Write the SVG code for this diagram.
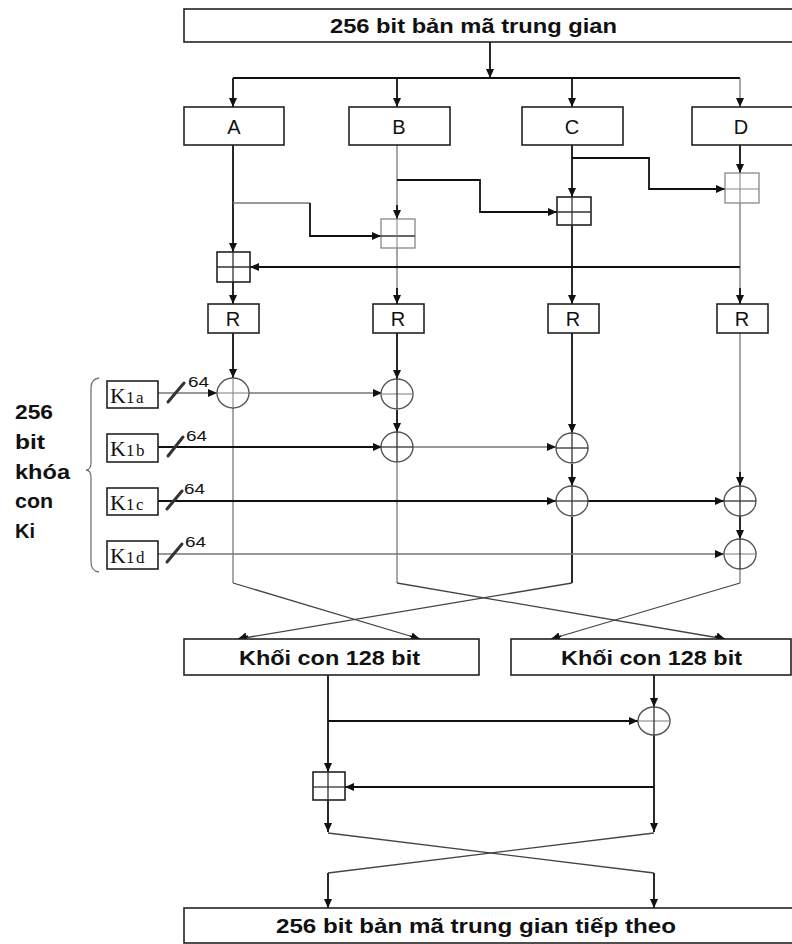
<svg xmlns="http://www.w3.org/2000/svg" width="792" height="944" viewBox="0 0 792 944">
<defs>
<marker id="ah" markerWidth="10" markerHeight="10" refX="9" refY="5" orient="auto" markerUnits="userSpaceOnUse">
<path d="M0,1 L9,5 L0,9 Z" fill="#111"/>
</marker>
<style>
.box{fill:#fff;stroke:#222;stroke-width:1.6}
.gbox{fill:#fff;stroke:#888;stroke-width:1.3}
.k{fill:none;stroke:#111;stroke-width:1.8}
.g{fill:none;stroke:#777;stroke-width:1.3}
.d{fill:none;stroke:#444;stroke-width:1.3}
.ka{fill:none;stroke:#111;stroke-width:1.8;marker-end:url(#ah)}
.ga{fill:none;stroke:#777;stroke-width:1.3;marker-end:url(#ah)}
.pl{stroke:#333;stroke-width:1.3}
.gpl{stroke:#888;stroke-width:1.1}
.xr{fill:#fff;stroke:#555;stroke-width:1.4}
.tb{font-family:"Liberation Sans",Arial,sans-serif;font-weight:bold;font-size:20px;fill:#111}
.tl{font-family:"Liberation Sans",Arial,sans-serif;font-size:20px;fill:#111;text-anchor:middle}
.ks{font-family:"Liberation Serif","Times New Roman",serif;fill:#111}
.n64{font-family:"Liberation Sans",Arial,sans-serif;font-size:14px;fill:#111}
.sl{stroke:#333;stroke-width:3;stroke-linecap:round}
</style>
</defs>
<rect width="792" height="944" fill="#fff"/>

<g id="connectors">
<path class="ka" d="M490,42 V78"/>
<path class="k" d="M233,78 H740"/>
<path class="ka" d="M233,78 V107"/>
<path class="ka" d="M397,78 V107"/>
<path class="ka" d="M572,78 V107"/>
<path class="ga" d="M740,78 V107"/>
<path class="ka" d="M233,145 V252"/>
<path class="ka" d="M233,282 V304"/>
<path class="g" d="M233,203 H310"/>
<path class="ka" d="M310,203 V236 H381"/>
<path class="g" d="M397,145 V304"/>
<path class="ka" d="M397,205 V219"/>
<path class="ka" d="M397,288 V304"/>
<path class="ka" d="M397,180 H480 V212 H557"/>
<path class="ka" d="M572,145 V197"/>
<path class="ka" d="M572,225 V304"/>
<path class="ka" d="M572,158 H649 V189 H725"/>
<path class="ka" d="M740,145 V173"/>
<path class="g" d="M740,203 V304"/>
<path class="ka" d="M740,288 V304"/>
<path class="ka" d="M740,267 H250"/>
<path class="ka" d="M233,333 V378"/>
<path class="g" d="M233,408 V583"/>
<path class="d" d="M233,583 L420,639"/>
<path class="ka" d="M410,636 L420,639"/>
<path class="ka" d="M397,333 V379"/>
<path class="ka" d="M397,410 V432"/>
<path class="g" d="M397,463 V583"/>
<path class="d" d="M397,583 L725,639"/>
<path class="ka" d="M715,636 L725,639"/>
<path class="ka" d="M572,333 V433"/>
<path class="ka" d="M572,464 V486"/>
<path class="k" d="M572,517 V583"/>
<path class="d" d="M572,583 L238,639"/>
<path class="ka" d="M248,636 L238,639"/>
<path class="g" d="M740,333 V486"/>
<path class="ka" d="M740,472 V486"/>
<path class="ka" d="M740,516 V539"/>
<path class="g" d="M740,569 V583"/>
<path class="d" d="M740,583 L551,639"/>
<path class="ka" d="M561,636 L551,639"/>
<path class="ga" d="M158,393 H217"/>
<path class="ga" d="M249,393 H382"/>
<path class="ka" d="M158,447 H382"/>
<path class="ga" d="M413,447 H556"/>
<path class="ka" d="M158,501 H556"/>
<path class="ka" d="M588,501 H724"/>
<path class="ga" d="M158,554 H724"/>
<path class="ka" d="M328,675 V772"/>
<path class="ka" d="M328,721 H638"/>
<path class="ka" d="M654,675 V707"/>
<path class="ka" d="M654,735 V832"/>
<path class="ka" d="M654,787 H345"/>
<path class="ka" d="M328,800 V832"/>
<path class="d" d="M328,833 L654,873"/>
<path class="d" d="M654,833 L328,873"/>
<path class="ka" d="M654,873 V908"/>
<path class="ka" d="M328,873 V908"/>
</g>

<g id="top">
<rect class="box" x="184" y="9" width="620" height="33"/>
<text class="tb" x="330" y="33" textLength="287" lengthAdjust="spacingAndGlyphs">256 bit bản mã trung gian</text>
</g>

<g id="A"><rect class="box" x="184" y="107" width="100" height="38"/><text class="tl" x="234" y="134">A</text></g>
<g id="B"><rect class="box" x="349" y="107" width="101" height="38"/><text class="tl" x="399" y="134">B</text></g>
<g id="C"><rect class="box" x="522" y="107" width="101" height="38"/><text class="tl" x="572" y="134">C</text></g>
<g id="D"><rect class="box" x="692" y="107" width="110" height="38"/><text class="tl" x="741" y="134">D</text></g>

<g id="addA"><rect class="box" x="217" y="252" width="33" height="30"/><line class="pl" x1="217" y1="267" x2="250" y2="267"/><line class="pl" x1="233" y1="252" x2="233" y2="282"/></g>
<g id="addB"><rect class="gbox" x="381" y="219" width="34" height="29"/><line class="pl" x1="381" y1="236" x2="415" y2="236"/><line class="gpl" x1="397" y1="219" x2="397" y2="248"/></g>
<g id="addC"><rect class="box" x="557" y="197" width="34" height="28"/><line class="pl" x1="557" y1="212" x2="591" y2="212"/><line class="pl" x1="572" y1="197" x2="572" y2="225"/></g>
<g id="addD"><rect class="gbox" x="725" y="173" width="34" height="30"/><line class="gpl" x1="725" y1="189" x2="759" y2="189"/><line class="gpl" x1="740" y1="173" x2="740" y2="203"/></g>

<g id="RA"><rect class="box" x="208" y="304" width="51" height="29"/><text class="tl" x="233" y="326">R</text></g>
<g id="RB"><rect class="box" x="373" y="304" width="51" height="29"/><text class="tl" x="398" y="326">R</text></g>
<g id="RC"><rect class="box" x="548" y="304" width="51" height="29"/><text class="tl" x="573" y="326">R</text></g>
<g id="RD"><rect class="box" x="717" y="304" width="51" height="29"/><text class="tl" x="742" y="326">R</text></g>

<g id="xA"><ellipse class="xr" cx="233" cy="393" rx="16" ry="15"/><line class="gpl" x1="217" y1="393" x2="249" y2="393"/><line class="gpl" x1="233" y1="378" x2="233" y2="408"/></g>
<g id="xB1"><ellipse class="xr" cx="397" cy="394" rx="16" ry="15"/><line class="gpl" x1="381" y1="394" x2="413" y2="394"/><line class="pl" x1="397" y1="379" x2="397" y2="409"/></g>
<g id="xB2"><ellipse class="xr" cx="397" cy="447" rx="16" ry="15"/><line class="pl" x1="381" y1="447" x2="413" y2="447"/><line class="pl" x1="397" y1="432" x2="397" y2="462"/></g>
<g id="xC2"><ellipse class="xr" cx="572" cy="448" rx="16" ry="15"/><line class="pl" x1="556" y1="448" x2="588" y2="448"/><line class="pl" x1="572" y1="433" x2="572" y2="463"/></g>
<g id="xC3"><ellipse class="xr" cx="572" cy="501" rx="16" ry="15"/><line class="pl" x1="556" y1="501" x2="588" y2="501"/><line class="pl" x1="572" y1="486" x2="572" y2="516"/></g>
<g id="xD3"><ellipse class="xr" cx="740" cy="501" rx="16" ry="15"/><line class="pl" x1="724" y1="501" x2="756" y2="501"/><line class="pl" x1="740" y1="486" x2="740" y2="516"/></g>
<g id="xD4"><ellipse class="xr" cx="740" cy="554" rx="16" ry="15"/><line class="gpl" x1="724" y1="554" x2="756" y2="554"/><line class="pl" x1="740" y1="539" x2="740" y2="569"/></g>

<g id="keys">
<path d="M99,378 Q91,379 91,388 V462 Q91,470 86,470 Q91,470 91,478 V562 Q91,571 99,572" fill="none" stroke="#777" stroke-width="1.3"/>
<text class="tb" x="15" y="419" textLength="38" lengthAdjust="spacingAndGlyphs">256</text>
<text class="tb" x="15" y="449" textLength="30" lengthAdjust="spacingAndGlyphs">bit</text>
<text class="tb" x="15" y="479" textLength="55" lengthAdjust="spacingAndGlyphs">khóa</text>
<text class="tb" x="15" y="508" textLength="38" lengthAdjust="spacingAndGlyphs">con</text>
<text class="tb" x="15" y="538" textLength="20" lengthAdjust="spacingAndGlyphs">Ki</text>
</g>
<g id="K1a"><rect class="box" x="107" y="381" width="51" height="27"/><text class="ks" x="110" y="403"><tspan font-size="22">K</tspan><tspan font-size="17" letter-spacing="1.5">1a</tspan></text><line class="sl" x1="168" y1="402" x2="184" y2="383"/><text class="n64" x="188" y="387" textLength="21" lengthAdjust="spacingAndGlyphs">64</text></g>
<g id="K1b"><rect class="box" x="107" y="434" width="51" height="28"/><text class="ks" x="110" y="456"><tspan font-size="22">K</tspan><tspan font-size="17" letter-spacing="1.5">1b</tspan></text><line class="sl" x1="168" y1="456" x2="183" y2="437"/><text class="n64" x="186" y="441" textLength="21" lengthAdjust="spacingAndGlyphs">64</text></g>
<g id="K1c"><rect class="box" x="107" y="488" width="51" height="27"/><text class="ks" x="110" y="510"><tspan font-size="22">K</tspan><tspan font-size="17" letter-spacing="1.5">1c</tspan></text><line class="sl" x1="167" y1="509" x2="182" y2="491"/><text class="n64" x="184" y="494" textLength="21" lengthAdjust="spacingAndGlyphs">64</text></g>
<g id="K1d"><rect class="box" x="107" y="541" width="51" height="28"/><text class="ks" x="110" y="563"><tspan font-size="22">K</tspan><tspan font-size="17" letter-spacing="1.5">1d</tspan></text><line class="sl" x1="167" y1="562" x2="182" y2="544"/><text class="n64" x="185" y="547" textLength="21" lengthAdjust="spacingAndGlyphs">64</text></g>

<g id="khoiL"><rect class="box" x="184" y="639" width="295" height="36"/><text class="tb" x="239" y="665" textLength="181" lengthAdjust="spacingAndGlyphs">Khối con 128 bit</text></g>
<g id="khoiR"><rect class="box" x="511" y="639" width="280" height="36"/><text class="tb" x="561" y="665" textLength="181" lengthAdjust="spacingAndGlyphs">Khối con 128 bit</text></g>

<g id="xBot"><ellipse class="xr" cx="654" cy="721" rx="16" ry="14"/><line class="gpl" x1="638" y1="721" x2="670" y2="721"/><line class="pl" x1="654" y1="707" x2="654" y2="735"/></g>
<g id="addBot"><rect class="box" x="313" y="772" width="32" height="28"/><line class="pl" x1="313" y1="787" x2="345" y2="787"/><line class="pl" x1="328" y1="772" x2="328" y2="800"/></g>

<g id="bottom">
<rect class="box" x="184" y="908" width="620" height="35"/>
<text class="tb" x="276" y="933" textLength="400" lengthAdjust="spacingAndGlyphs">256 bit bản mã trung gian tiếp theo</text>
</g>
</svg>
